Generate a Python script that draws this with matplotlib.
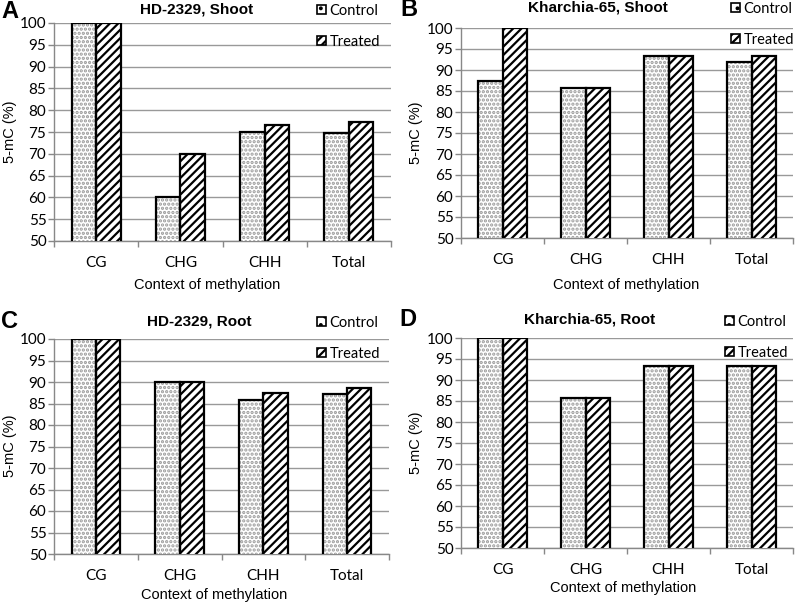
import matplotlib
matplotlib.use("Agg")
import matplotlib.pyplot as plt
import matplotlib.patches as mpatches
import numpy as np

categories = ["CG", "CHG", "CHH", "Total"]
series_names = ["Control", "Treated"]

a_control = [100, 60, 75, 74.7]
a_treated = [100, 70, 76.7, 77.4]
b_control = [87.5, 85.7, 93.3, 92.0]
b_treated = [100, 85.7, 93.3, 93.3]
c_control = [100, 90, 85.7, 87.2]
c_treated = [100, 90, 87.5, 88.6]
d_control = [100, 85.7, 93.3, 93.3]
d_treated = [100, 85.7, 93.3, 93.3]

titles = ["HD-2329, Shoot", "Kharchia-65, Shoot", "HD-2329, Root", "Kharchia-65, Root"]
letters = ["A", "B", "C", "D"]
yticks = list(range(50, 101, 5))

W, H = 796, 605
fig = plt.figure(figsize=(W / 100, H / 100), dpi=100)
plt.rcParams['hatch.linewidth'] = 1.6

def fx(px):
    return px / W

def fy(py):
    return 1 - py / H

# pixel boxes: left, right, top, bottom
boxes = [(54, 391, 23, 241), (461, 793, 28, 238), (54, 389, 339, 554), (461, 793, 338, 548)]
data = [(a_control, a_treated), (b_control, b_treated), (c_control, c_treated), (d_control, d_treated)]
title_pos = [(197, 10), (598, 8), (199, 322), (590, 320)]
letter_pos = [(1, 12), (400, 10), (1, 322), (399, 320)]
xlabel_pos = [(207, 285), (626, 285), (214, 595), (623, 588)]
ylabel_pos = [(10, 132), (416, 133), (10, 446), (416, 443)]
legend_pos = [(317, 4), (731, 2), (317, 316), (725, 315)]

tf = "Lato"
fs = 11
af = "Liberation Sans"
afs = 10.5

for i in range(4):
    l, r, t, b = boxes[i]
    ax = fig.add_axes([fx(l), fy(b), fx(r - l), fy(t) - fy(b)])
    x = np.arange(len(categories))
    w = 0.29
    ctrl, trt = data[i]
    # control: light speckle fill, then black outline on top
    ax.bar(x - w / 2, ctrl, width=w, color="white", edgecolor="#9a9a9a",
           hatch="....", linewidth=0, zorder=3)
    ax.bar(x - w / 2, ctrl, width=w, fill=False, edgecolor="black",
           linewidth=1.6, zorder=4, label=series_names[0])
    ax.bar(x + w / 2, trt, width=w, color="white", edgecolor="black",
           hatch="////", linewidth=1.6, label=series_names[1], zorder=3)
    ax.set_ylim(50, 100)
    ax.set_xlim(-0.5, 3.5)
    ax.set_yticks(yticks)
    ax.set_yticklabels([str(v) for v in yticks], fontsize=fs, family=tf)
    ax.set_xticks(x)
    ax.set_xticklabels(categories, fontsize=fs, family=tf)
    ax.set_xticks(np.arange(-0.5, 4.0, 1.0), minor=True)
    ax.tick_params(axis="x", which="major", length=0, pad=11)
    ax.tick_params(axis="x", which="minor", length=4, color="#888888", width=1)
    ax.tick_params(axis="y", length=4, color="#888888", width=1, pad=1.5)
    ax.yaxis.grid(True, color="#999999", linewidth=1, zorder=0)
    ax.set_axisbelow(True)
    for s in ["top", "right"]:
        ax.spines[s].set_visible(False)
    for s in ["left", "bottom"]:
        ax.spines[s].set_color("#888888")
        ax.spines[s].set_linewidth(1)
    fig.text(fx(ylabel_pos[i][0]), fy(ylabel_pos[i][1]), "5-mC (%)", rotation=90,
             ha="center", va="center", fontsize=afs, family=af)
    fig.text(fx(xlabel_pos[i][0]), fy(xlabel_pos[i][1]), "Context of methylation",
             ha="center", va="center", fontsize=afs, family=af)
    fig.text(fx(title_pos[i][0]), fy(title_pos[i][1]), titles[i], ha="center", va="center",
             fontsize=11, fontweight="bold", family=af)
    fig.text(fx(letter_pos[i][0]), fy(letter_pos[i][1]), letters[i], ha="left", va="center",
             fontsize=17, fontweight="bold", family=af)
    h1 = mpatches.Patch(facecolor="white", edgecolor="black", hatch="..", linewidth=1.2)
    h2 = mpatches.Patch(facecolor="white", edgecolor="black", hatch="////", linewidth=1.2)
    ax.legend(handles=[h1, h2], labels=series_names, loc="upper left",
              bbox_to_anchor=(fx(legend_pos[i][0]), fy(legend_pos[i][1])),
              bbox_transform=fig.transFigure, frameon=False,
              prop={"family": tf, "size": 10.5},
              handlelength=0.6, handleheight=0.6, handletextpad=0.25,
              labelspacing=1.15, borderpad=0.0, borderaxespad=0.0)

fig.savefig("out.png", dpi=100)
